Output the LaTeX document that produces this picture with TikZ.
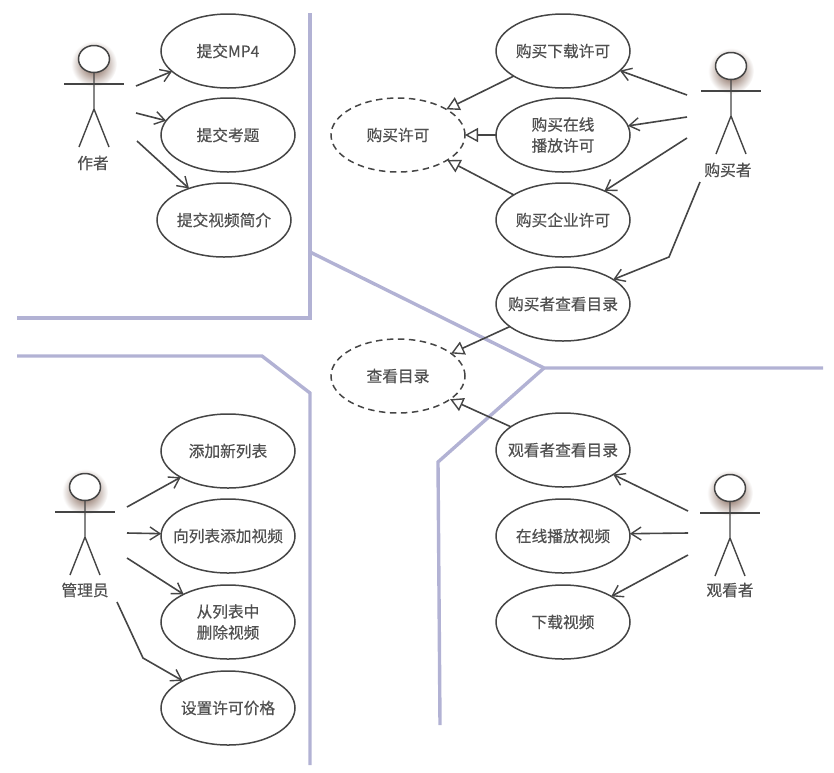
\documentclass[tikz,border=0pt]{standalone}
\usepackage{fontspec}
\setmainfont{Noto Sans CJK SC}[BoldFont=*, BoldFeatures={FakeBold=0.5}]
\usepackage{tikz}
\usetikzlibrary{arrows.meta, shapes.geometric}

\definecolor{inkgray}{HTML}{454545}
\definecolor{textgray}{HTML}{505050}
\definecolor{wallblue}{HTML}{B2B2D4}
\definecolor{shadowbrown}{HTML}{6E4C3C}

\tikzset{
  usecase/.style={draw=inkgray, line width=1.5pt, ellipse, minimum width=134pt, minimum height=74pt,
    inner sep=-14pt, outer sep=0pt, align=center, text=textgray, font=\fontsize{15.7}{21}\selectfont\bfseries},
  absuse/.style={usecase, dash pattern=on 6.5pt off 4.5pt},
  actorhead/.style={draw=inkgray, line width=1.5pt, ellipse, fill=white, minimum width=31pt, minimum height=27pt, inner sep=0pt},
  actorlabel/.style={text=textgray, inner sep=0pt, font=\fontsize{15.7}{21}\selectfont\bfseries},
  actorline/.style={draw=inkgray, line width=1.4pt},
  assoc/.style={draw=inkgray, line width=1.6pt, line join=round, -{Straight Barb[length=10pt, width=13pt, line width=1.4pt]}},
  general/.style={draw=inkgray, line width=1.6pt, -{Triangle[open, length=13pt, width=14pt, fill=white, line width=1.4pt]}},
  wall/.style={draw=wallblue, line width=3.4pt, line join=miter}
}

\begin{document}
\begin{tikzpicture}[x=1pt, y=-1pt]
  \useasboundingbox (0,0) rectangle (834,772);

  % Walls between the four roles
  \draw[wall] (310,13) -- (310,318) -- (17,318);
  \draw[wall] (310,252) -- (544,368) -- (823,368);
  \draw[wall] (544,368) -- (438,462) -- (440,725);
  \draw[wall] (17,356) -- (262,356) -- (310,393) -- (310,765);

  % Actors: name/head x/head y/label x/label y/text
  \foreach \who/\hx/\hy/\lx/\ly/\txt in {
      author/94/59/93/163/作者,
      buyer/731/66/728/170/购买者,
      admin/85/487/85/590/管理员,
      viewer/730/488/730/590/观看者} {
    \shade[inner color=shadowbrown, outer color=white] (\hx,\hy+5) circle (23pt);
    \draw[actorline] (\hx,\hy+12) -- (\hx,\hy+50) -- (\hx-15,\hy+88);
    \draw[actorline] (\hx,\hy+50) -- (\hx+15,\hy+88);
    \draw[actorline] (\hx-30,\hy+25) -- (\hx+30,\hy+25);
    \node[actorhead] (\who head) at (\hx,\hy) {};
    \node[actorlabel] (\who label) at (\lx,\ly) {\txt};
  }

  % Author use cases
  \node[usecase] (mp4) at (228,51) {提交MP4};
  \node[usecase] (exam) at (228,135) {提交考题};
  \node[usecase] (intro) at (224,220) {提交视频简介};

  % Buyer use cases
  \node[usecase] (buydown) at (563,51) {购买下载许可};
  \node[usecase] (buyplay) at (563,135) {购买在线\\播放许可};
  \node[usecase] (buycorp) at (563,220) {购买企业许可};
  \node[usecase] (buycat) at (563,304) {购买者查看目录};
  \node[absuse] (buylic) at (398,135) {购买许可};
  \node[absuse] (catalog) at (398,376) {查看目录};

  % Viewer use cases
  \node[usecase] (viewcat) at (563,450) {观看者查看目录};
  \node[usecase] (stream) at (563,536) {在线播放视频};
  \node[usecase] (download) at (563,622) {下载视频};

  % Admin use cases
  \node[usecase] (newlist) at (228,451) {添加新列表};
  \node[usecase] (addvideo) at (228,536) {向列表添加视频};
  \node[usecase] (delvideo) at (228,622) {从列表中\\删除视频};
  \node[usecase] (price) at (228,708) {设置许可价格};

  % Loose ends of the associations
  \coordinate (a1) at (136,86);
  \coordinate (a2) at (136,113);
  \coordinate (a3) at (137,141);
  \coordinate (b1) at (687,95);
  \coordinate (b2) at (687,117);
  \coordinate (b3) at (687,138);
  \coordinate (b4) at (700,182);
  \coordinate (b4bend) at (669,257);
  \coordinate (v1) at (688,511);
  \coordinate (v2) at (688,533);
  \coordinate (v3) at (688,555);
  \coordinate (m1) at (127,507);
  \coordinate (m2) at (127,533);
  \coordinate (m3) at (127,558);
  \coordinate (m4) at (117,602);
  \coordinate (m4bend) at (143,658);

  % Associations
  \foreach \from/\to in {a1/mp4.200, a2/exam.167, a3/intro.138,
      b1/buydown.-19, b2/buyplay.8, b3/buycorp.35,
      v1/viewcat.-26, v2/stream.2, v3/download.28,
      m1/newlist.209, m2/addvideo.178, m3/delvideo.148}
    \draw[assoc] (\from) -- (\to);
  \draw[assoc] (b4) -- (b4bend) -- (buycat.26);
  \draw[assoc] (m4) -- (m4bend) -- (price.149);

  % Generalizations
  \foreach \from/\to in {buydown.207/buylic.28, buyplay.180/buylic.0, buycorp.153/buylic.-27,
      buycat.203/catalog.23, viewcat.156/catalog.-24}
    \draw[general] (\from) -- (\to);
\end{tikzpicture}
\end{document}
